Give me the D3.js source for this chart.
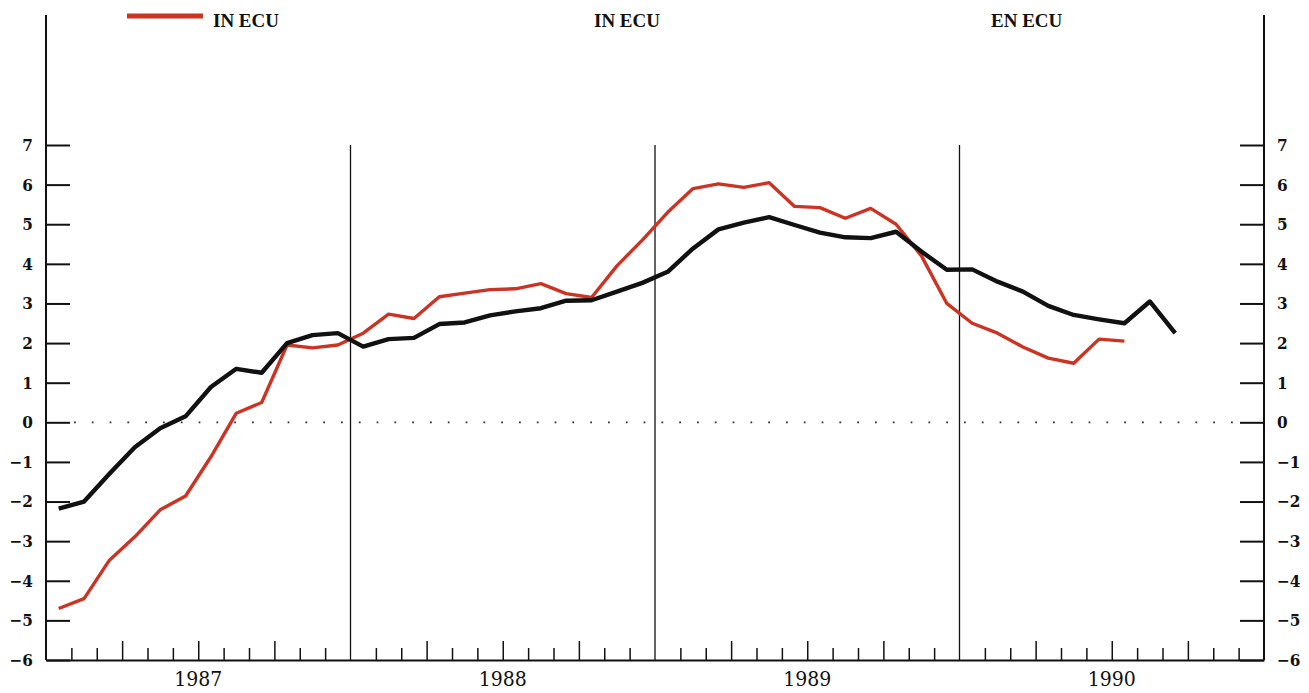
<!DOCTYPE html>
<html>
<head>
<meta charset="utf-8">
<script src="https://cdn.jsdelivr.net/npm/d3@7"></script>
<style>
  body { margin: 0; background: #fff; }
  text { font-family: "DejaVu Serif Condensed", "Liberation Serif", serif; fill: #111; }
  .lbl { font-family: "Liberation Serif", serif; font-weight: bold; font-size: 19px; }
</style>
</head>
<body>
<div id="container"></div>
<script>
// month index 0 = January 1987
const years = ["1987", "1988", "1989", "1990"];
const panelLabels = ["IN ECU", "IN ECU", "EN ECU"];
const yTicks = [-6, -5, -4, -3, -2, -1, 0, 1, 2, 3, 4, 5, 6, 7];

// red series, Jan 1987 .. Jul 1990
const redValues = [
  -4.7, -4.45, -3.48, -2.89, -2.21, -1.86, -0.87, 0.23, 0.5, 1.95, 1.88, 1.95,
  2.25, 2.73, 2.62, 3.17, 3.26, 3.35, 3.37, 3.5, 3.25, 3.15, 3.95, 4.6,
  5.3, 5.9, 6.02, 5.93, 6.05, 5.45, 5.42, 5.15, 5.4, 5.0, 4.2, 3.0,
  2.5, 2.25, 1.9, 1.62, 1.49, 2.1, 2.05
];

// black series, Jan 1987 .. Sep 1990
const blackValues = [
  -2.18, -2.0, -1.3, -0.63, -0.15, 0.15, 0.89, 1.35, 1.25, 2.0, 2.2, 2.25,
  1.91, 2.1, 2.13, 2.48, 2.52, 2.7, 2.8, 2.88, 3.07, 3.08, 3.3, 3.52,
  3.8, 4.39, 4.87, 5.04, 5.18, 4.98, 4.79, 4.67, 4.65, 4.81, 4.31, 3.85,
  3.86, 3.55, 3.3, 2.94, 2.71, 2.6, 2.5, 3.05, 2.25
];

const w = 1309, h = 693;
const padL = 46, padR = 1264, padT = 15, padB = 660;

const x = d3.scaleLinear().domain([0, 48]).range([padL, padR]);
const y = d3.scaleLinear().domain([-6, 7]).range([padB, 145]);

const svg = d3.select("#container").append("svg")
  .attr("width", w).attr("height", h);

// frame: left, right and bottom lines
svg.append("line").attr("x1", padL).attr("x2", padL).attr("y1", padT).attr("y2", padB)
   .attr("stroke", "#111").attr("stroke-width", 2);
svg.append("line").attr("x1", padR).attr("x2", padR).attr("y1", padT).attr("y2", padB)
   .attr("stroke", "#111").attr("stroke-width", 2);

// year dividers
svg.selectAll(".divider")
   .data([12, 24, 36])
   .enter()
   .append("line")
   .attr("class", "divider")
   .attr("x1", d => x(d)).attr("x2", d => x(d))
   .attr("y1", y(7)).attr("y2", padB)
   .attr("stroke", "#111").attr("stroke-width", 1.3);

// bottom axis with month ticks pointing up
const months = d3.range(1, 48).filter(m => m % 12 !== 0);
const xAxis = d3.axisTop(x)
  .tickValues(months)
  .tickSize(0)
  .tickFormat("");
const gx = svg.append("g")
   .attr("transform", "translate(0," + padB + ")")
   .call(xAxis);
gx.select(".domain").attr("stroke", "#111").attr("stroke-width", 2);
gx.selectAll(".tick line")
  .attr("y2", d => (d % 3 === 0 ? -19 : -12))
  .attr("stroke", "#111").attr("stroke-width", 1.5);

svg.selectAll(".year")
   .data(years)
   .enter()
   .append("text")
   .attr("class", "year")
   .attr("x", (d, i) => x(i * 12 + 6))
   .attr("y", 686)
   .attr("text-anchor", "middle")
   .attr("font-size", 21)
   .text(d => d);

// left axis
const yAxisL = d3.axisRight(y).tickValues(yTicks).tickSize(24)
  .tickFormat(d => d < 0 ? "\u2212" + Math.abs(d) : d);
const gl = svg.append("g").attr("transform", "translate(" + padL + ",0)").call(yAxisL);
gl.select(".domain").remove();
gl.selectAll(".tick line").attr("stroke", "#111").attr("stroke-width", 2);
gl.selectAll(".tick text")
  .attr("x", -13).attr("text-anchor", "end")
  .attr("font-size", 17).attr("font-weight", "bold")
  .attr("font-family", null).attr("fill", "#111");

// right axis
const yAxisR = d3.axisLeft(y).tickValues(yTicks).tickSize(24)
  .tickFormat(d => d < 0 ? "\u2212" + Math.abs(d) : d);
const gr = svg.append("g").attr("transform", "translate(" + padR + ",0)").call(yAxisR);
gr.select(".domain").remove();
gr.selectAll(".tick line").attr("stroke", "#111").attr("stroke-width", 2);
gr.selectAll(".tick text")
  .attr("x", 13).attr("text-anchor", "start")
  .attr("font-size", 17).attr("font-weight", "bold")
  .attr("font-family", null).attr("fill", "#111");

// zero reference (dotted)
svg.append("line")
   .attr("x1", padL + 28).attr("x2", padR - 28)
   .attr("y1", y(0)).attr("y2", y(0))
   .attr("stroke", "#333").attr("stroke-width", 1.8)
   .attr("stroke-dasharray", "1.8,16");

const line = d3.line()
  .x((d, i) => x(i + 0.5))
  .y(d => y(d));

svg.append("path")
   .datum(redValues)
   .attr("d", line)
   .attr("fill", "none")
   .attr("stroke", "#cc3322")
   .attr("stroke-width", 3.4)
   .attr("stroke-linejoin", "round");

svg.append("path")
   .datum(blackValues)
   .attr("d", line)
   .attr("fill", "none")
   .attr("stroke", "#111")
   .attr("stroke-width", 4.4)
   .attr("stroke-linejoin", "round");

// legend + panel headers
svg.append("line")
   .attr("x1", 127).attr("x2", 203).attr("y1", 16).attr("y2", 16)
   .attr("stroke", "#cc3322").attr("stroke-width", 5);

svg.selectAll(".lbl")
   .data(panelLabels)
   .enter()
   .append("text")
   .attr("class", "lbl")
   .attr("x", (d, i) => [213, 594, 991][i])
   .attr("y", 27)
   .text(d => d);
</script>
</body>
</html>
